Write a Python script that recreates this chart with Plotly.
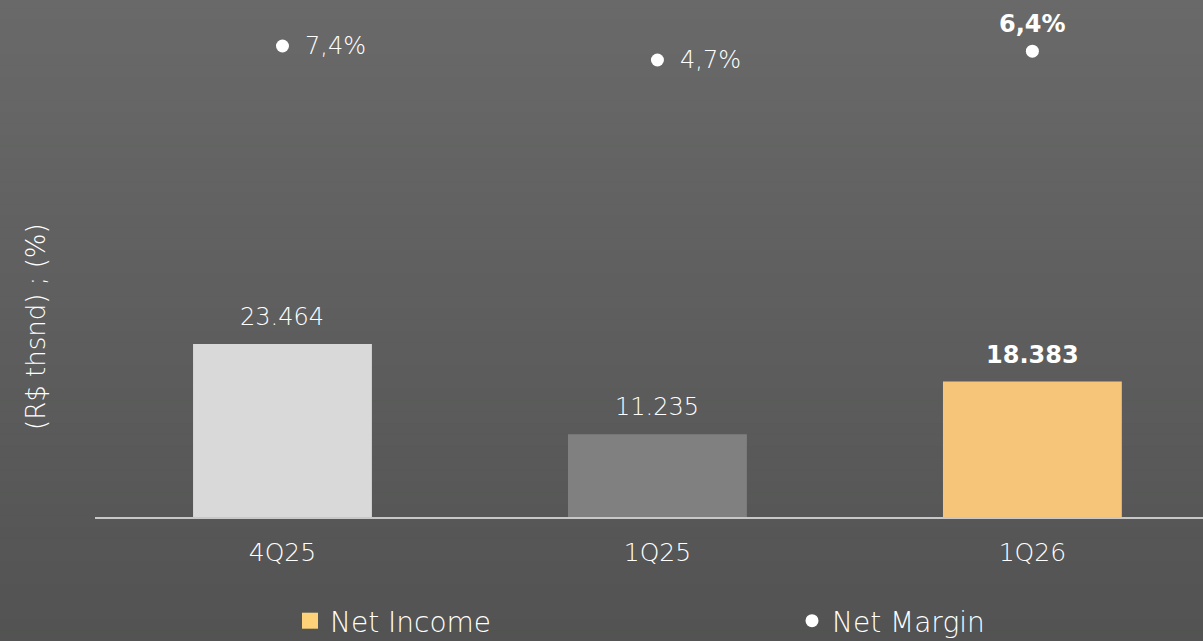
import plotly.graph_objects as go

categories = ["4Q25", "1Q25", "1Q26"]
net_income = [23464, 11235, 18383]
net_income_labels = ["23.464", "11.235", "<b>18.383</b>"]
net_margin = [7.4, 4.7, 6.4]
net_margin_labels = ["7,4%", "4,7%", "<b>6,4%</b>"]
bar_colors = ["#D9D9D9", "#808080", "#F7C579"]

FONT = "DejaVu Sans"
W, H = 1203, 641
ML, MR, MT, MB = 95, 0, 10, 124
plot_h = H - MT - MB
plot_w = W - ML - MR

fig = go.Figure()

fig.add_trace(go.Bar(
    x=categories, y=net_income, name="Net Income",
    marker=dict(color=bar_colors, line=dict(width=0)),
    width=0.477, showlegend=False,
))
# legend proxy for Net Income (yellow square)
fig.add_trace(go.Scatter(
    x=[categories[0]], y=[None], name="Net Income", mode="markers",
    marker=dict(color="#FFD27A", symbol="square", size=16), showlegend=True,
    legend="legend",
))
fig.add_trace(go.Scatter(
    x=categories, y=net_margin, name="Net Margin", yaxis="y2",
    mode="markers",
    marker=dict(color="white", size=13),
    cliponaxis=False, legend="legend2",
))

# value labels above bars
for c, v, t in zip(categories, net_income, net_income_labels):
    fig.add_annotation(x=c, y=v, text=t, showarrow=False, yanchor="middle",
                       yshift=27, font=dict(color="white", size=24, family=FONT))

# net margin labels
for i, (c, v, t) in enumerate(zip(categories, net_margin, net_margin_labels)):
    if i < 2:
        fig.add_annotation(x=c, y=v, yref="y2", text=t, showarrow=False,
                           xanchor="left", yanchor="middle", xshift=21,
                           font=dict(color="white", size=24, family=FONT))
    else:
        fig.add_annotation(x=c, y=v, yref="y2", text=t, showarrow=False,
                           xanchor="center", yanchor="middle", yshift=27,
                           font=dict(color="white", size=24, family=FONT))

# gradient background bands
n = 60
y_top = (H - MB) / plot_h + 0.05
y_bot = -MB / plot_h - 0.05
c_top = (105, 106, 105)
c_bot = (81, 82, 81)
for i in range(n):
    f = i / (n - 1)
    col = tuple(round(c_top[k] + (c_bot[k] - c_top[k]) * f) for k in range(3))
    y0 = y_top - (y_top - y_bot) * i / n
    y1 = y_top - (y_top - y_bot) * (i + 1) / n
    fig.add_shape(type="rect", xref="paper", yref="paper", x0=-0.2, x1=1.2,
                  y0=y1, y1=y0 + 0.002, fillcolor="rgb(%d,%d,%d)" % col,
                  line=dict(width=0), layer="below")

px_per_unit = 0.00737
y1max = plot_h / px_per_unit
k2 = 5.185
y2max = 7.4 + (46 - MT) / k2
y2min = y2max - plot_h / k2

fig.add_annotation(x=(36 - ML) / plot_w, y=(H - MB - 327) / plot_h,
                   xref="paper", yref="paper", text="(R$ thsnd) ; (%)",
                   textangle=-90, showarrow=False, xanchor="center", yanchor="middle",
                   font=dict(color="white", size=26, family=FONT))

LEG_Y = (H - MB - 621) / plot_h

fig.update_layout(
    width=W, height=H,
    margin=dict(l=ML, r=MR, t=MT, b=MB, autoexpand=False),
    paper_bgcolor="#5c5d5c", plot_bgcolor="rgba(0,0,0,0)",
    font=dict(family=FONT, color="white", size=24, weight=200),
    xaxis=dict(range=[-0.5, 2.455], showgrid=False, zeroline=False,
               showline=True, linecolor="#C8C8C8", linewidth=2,
               ticks="", ticklabelstandoff=12,
               tickfont=dict(size=25, color="white", family=FONT)),
    yaxis=dict(range=[0, y1max], visible=False, showgrid=False, zeroline=False),
    yaxis2=dict(range=[y2min, y2max], overlaying="y", visible=False,
                showgrid=False, zeroline=False),
    legend=dict(orientation="h", x=(290 - ML) / plot_w, xanchor="left",
                y=LEG_Y, yanchor="middle",
                font=dict(size=28, color="white", family=FONT),
                bgcolor="rgba(0,0,0,0)"),
    legend2=dict(orientation="h", x=(792 - ML) / plot_w, xanchor="left",
                 y=LEG_Y, yanchor="middle",
                 font=dict(size=28, color="white", family=FONT),
                 bgcolor="rgba(0,0,0,0)"),
    showlegend=True,
    barmode="overlay",
)

fig.write_html("out.html", config={"displayModeBar": False},
               post_script="document.body.style.margin='0px';")
